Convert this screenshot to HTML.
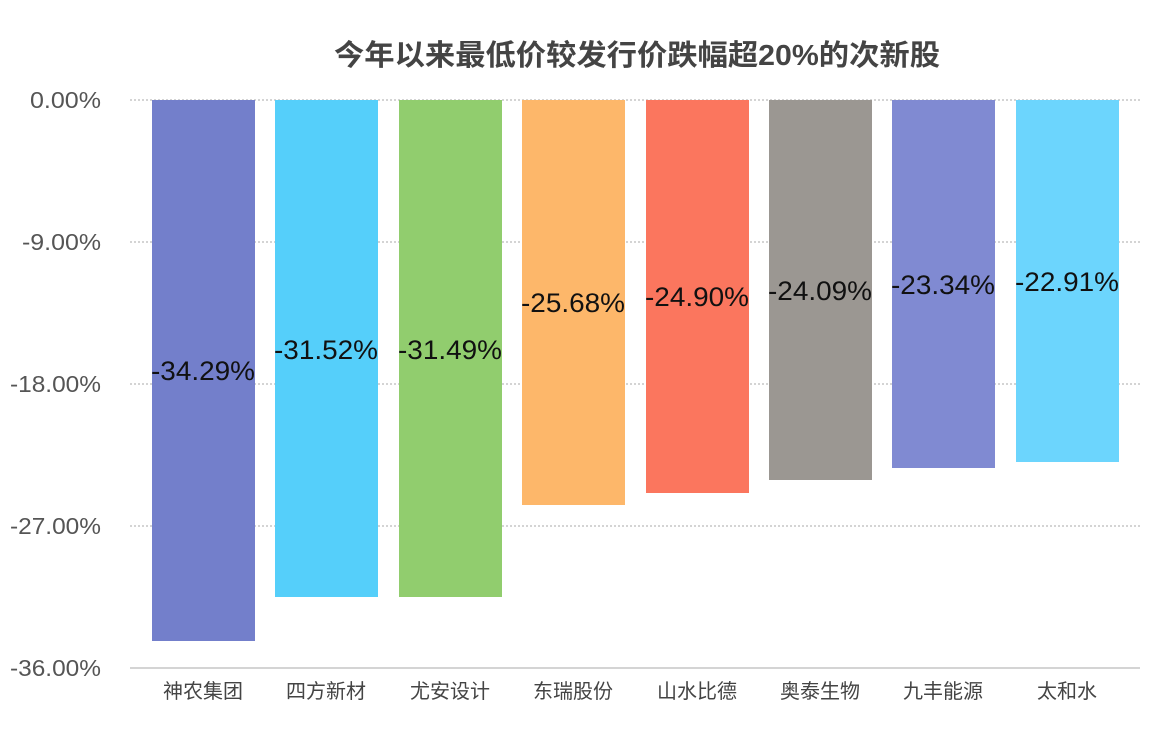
<!DOCTYPE html>
<html><head><meta charset="utf-8"><style>
body{margin:0;background:#fff;}
svg text{font-family:"Liberation Sans","Noto Sans CJK SC",sans-serif;}
</style></head><body>
<svg width="1162" height="734" xmlns="http://www.w3.org/2000/svg">
<rect width="1162" height="734" fill="#fff"/>
<text x="637" y="65" text-anchor="middle" font-size="29" font-weight="bold" fill="#444" textLength="606" lengthAdjust="spacingAndGlyphs">今年以来最低价较发行价跌幅超20%的次新股</text>
<g stroke="#aaa" stroke-width="1" stroke-dasharray="2,2">
<line x1="130" y1="100" x2="1140" y2="100"/>
<line x1="130" y1="242" x2="1140" y2="242"/>
<line x1="130" y1="384" x2="1140" y2="384"/>
<line x1="130" y1="526" x2="1140" y2="526"/>
</g>
<line x1="130" y1="668" x2="1140" y2="668" stroke="#aaa" stroke-width="1"/>
<g font-size="23" fill="#555" text-anchor="end">
<text x="101" y="108" textLength="71" lengthAdjust="spacingAndGlyphs">0.00%</text>
<text x="101" y="250" textLength="79" lengthAdjust="spacingAndGlyphs">-9.00%</text>
<text x="101" y="392" textLength="91" lengthAdjust="spacingAndGlyphs">-18.00%</text>
<text x="101" y="534" textLength="91" lengthAdjust="spacingAndGlyphs">-27.00%</text>
<text x="101" y="676" textLength="91" lengthAdjust="spacingAndGlyphs">-36.00%</text>
</g>
<g>
<rect x="152" y="100" width="103" height="541" fill="#737fcb"/>
<rect x="275" y="100" width="103" height="497" fill="#55cffa"/>
<rect x="399" y="100" width="103" height="497" fill="#91cd6e"/>
<rect x="522" y="100" width="103" height="405" fill="#fdb76a"/>
<rect x="646" y="100" width="103" height="393" fill="#fb765e"/>
<rect x="769" y="100" width="103" height="380" fill="#9b9792"/>
<rect x="892" y="100" width="103" height="368" fill="#808ad2"/>
<rect x="1016" y="100" width="103" height="362" fill="#6cd5fd"/>
</g>
<g font-size="27" fill="#111" text-anchor="middle">
<text x="203" y="380" textLength="104" lengthAdjust="spacingAndGlyphs">-34.29%</text>
<text x="326" y="359" textLength="104" lengthAdjust="spacingAndGlyphs">-31.52%</text>
<text x="450" y="359" textLength="104" lengthAdjust="spacingAndGlyphs">-31.49%</text>
<text x="573" y="312" textLength="104" lengthAdjust="spacingAndGlyphs">-25.68%</text>
<text x="697" y="306" textLength="104" lengthAdjust="spacingAndGlyphs">-24.90%</text>
<text x="820" y="300" textLength="104" lengthAdjust="spacingAndGlyphs">-24.09%</text>
<text x="943" y="294" textLength="104" lengthAdjust="spacingAndGlyphs">-23.34%</text>
<text x="1067" y="291" textLength="104" lengthAdjust="spacingAndGlyphs">-22.91%</text>
</g>
<g font-size="20" fill="#444" text-anchor="middle">
<text x="203" y="698">神农集团</text>
<text x="326" y="698">四方新材</text>
<text x="450" y="698">尤安设计</text>
<text x="573" y="698">东瑞股份</text>
<text x="697" y="698">山水比德</text>
<text x="820" y="698">奥泰生物</text>
<text x="943" y="698">九丰能源</text>
<text x="1067" y="698">太和水</text>
</g>
</svg>
</body></html>
